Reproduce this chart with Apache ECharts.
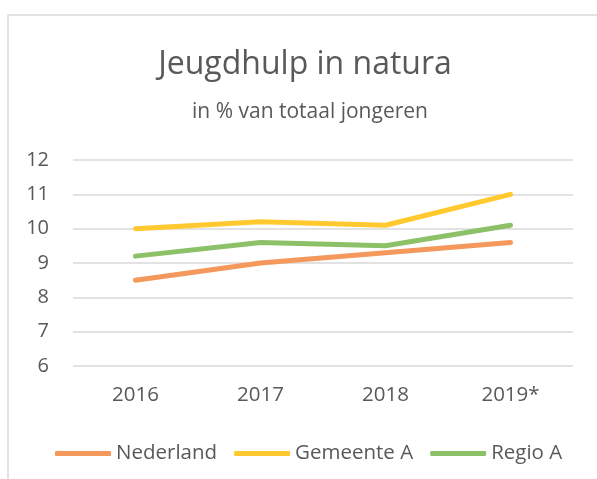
<!DOCTYPE html>
<html>
<head>
<meta charset="utf-8">
<script src="https://cdn.jsdelivr.net/npm/echarts@6/dist/echarts.min.js"></script>
<style>
  html, body { margin: 0; padding: 0; background: #fff; }
  #chart { width: 597px; height: 479px; }
</style>
</head>
<body>
<div id="chart"></div>
<script>
// years on the x axis
const years = ['2016', '2017', '2018', '2019*'];

// percentages
const nederland = [8.5, 9.0, 9.3, 9.6];
const gemeenteA = [10.0, 10.2, 10.1, 11.0];
const regioA = [9.2, 9.6, 9.5, 10.1];

const textColor = '#595959';
const font = 'Open Sans';

const chart = echarts.init(document.getElementById('chart'));

const lineSeries = (name, data, color) => ({
  name: name,
  type: 'line',
  data: data,
  symbol: 'none',
  lineStyle: { width: 5, color: color, cap: 'round', join: 'round' },
  itemStyle: { color: color },
});

chart.setOption({
  animation: false,
  textStyle: { fontFamily: font },
  graphic: [{
    // light frame round the chart, cut off at the right and bottom
    type: 'rect',
    shape: { x: 8, y: 15, width: 620, height: 500 },
    style: { fill: 'none', stroke: '#d9d9d9', lineWidth: 1.5 },
    silent: true,
  }],
  title: [{
    text: 'Jeugdhulp in natura',
    left: 300,
    textAlign: 'center',
    top: 44,
    textStyle: { fontFamily: font, fontSize: 32, fontWeight: 'normal', color: textColor },
  }, {
    text: 'in % van totaal jongeren',
    left: 305,
    textAlign: 'center',
    top: 97,
    textStyle: { fontFamily: font, fontSize: 21, fontWeight: 'normal', color: textColor },
  }],
  grid: { left: 73, right: 24, top: 160, bottom: 113 },
  xAxis: {
    type: 'category',
    data: years,
    boundaryGap: true,
    axisLine: { show: false },
    axisTick: { show: false },
    axisLabel: { color: textColor, fontSize: 20.5, margin: 19, fontFamily: font },
  },
  yAxis: {
    type: 'value',
    min: 6,
    max: 12,
    interval: 1,
    axisLine: { show: false },
    axisTick: { show: false },
    axisLabel: { color: textColor, fontSize: 20, margin: 24, fontFamily: font },
    splitLine: { lineStyle: { color: '#d9d9d9', width: 1.5 } },
  },
  legend: {
    top: 438,
    left: 50,
    icon: 'roundRect',
    itemWidth: 56,
    itemHeight: 5,
    itemGap: 17,
    textStyle: { color: textColor, fontSize: 20.5, fontFamily: font },
    data: ['Nederland', 'Gemeente A', 'Regio A'],
  },
  series: [
    lineSeries('Nederland', nederland, '#F4985C'),
    lineSeries('Gemeente A', gemeenteA, '#FFC92F'),
    lineSeries('Regio A', regioA, '#8CC168'),
  ],
});
</script>
</body>
</html>
